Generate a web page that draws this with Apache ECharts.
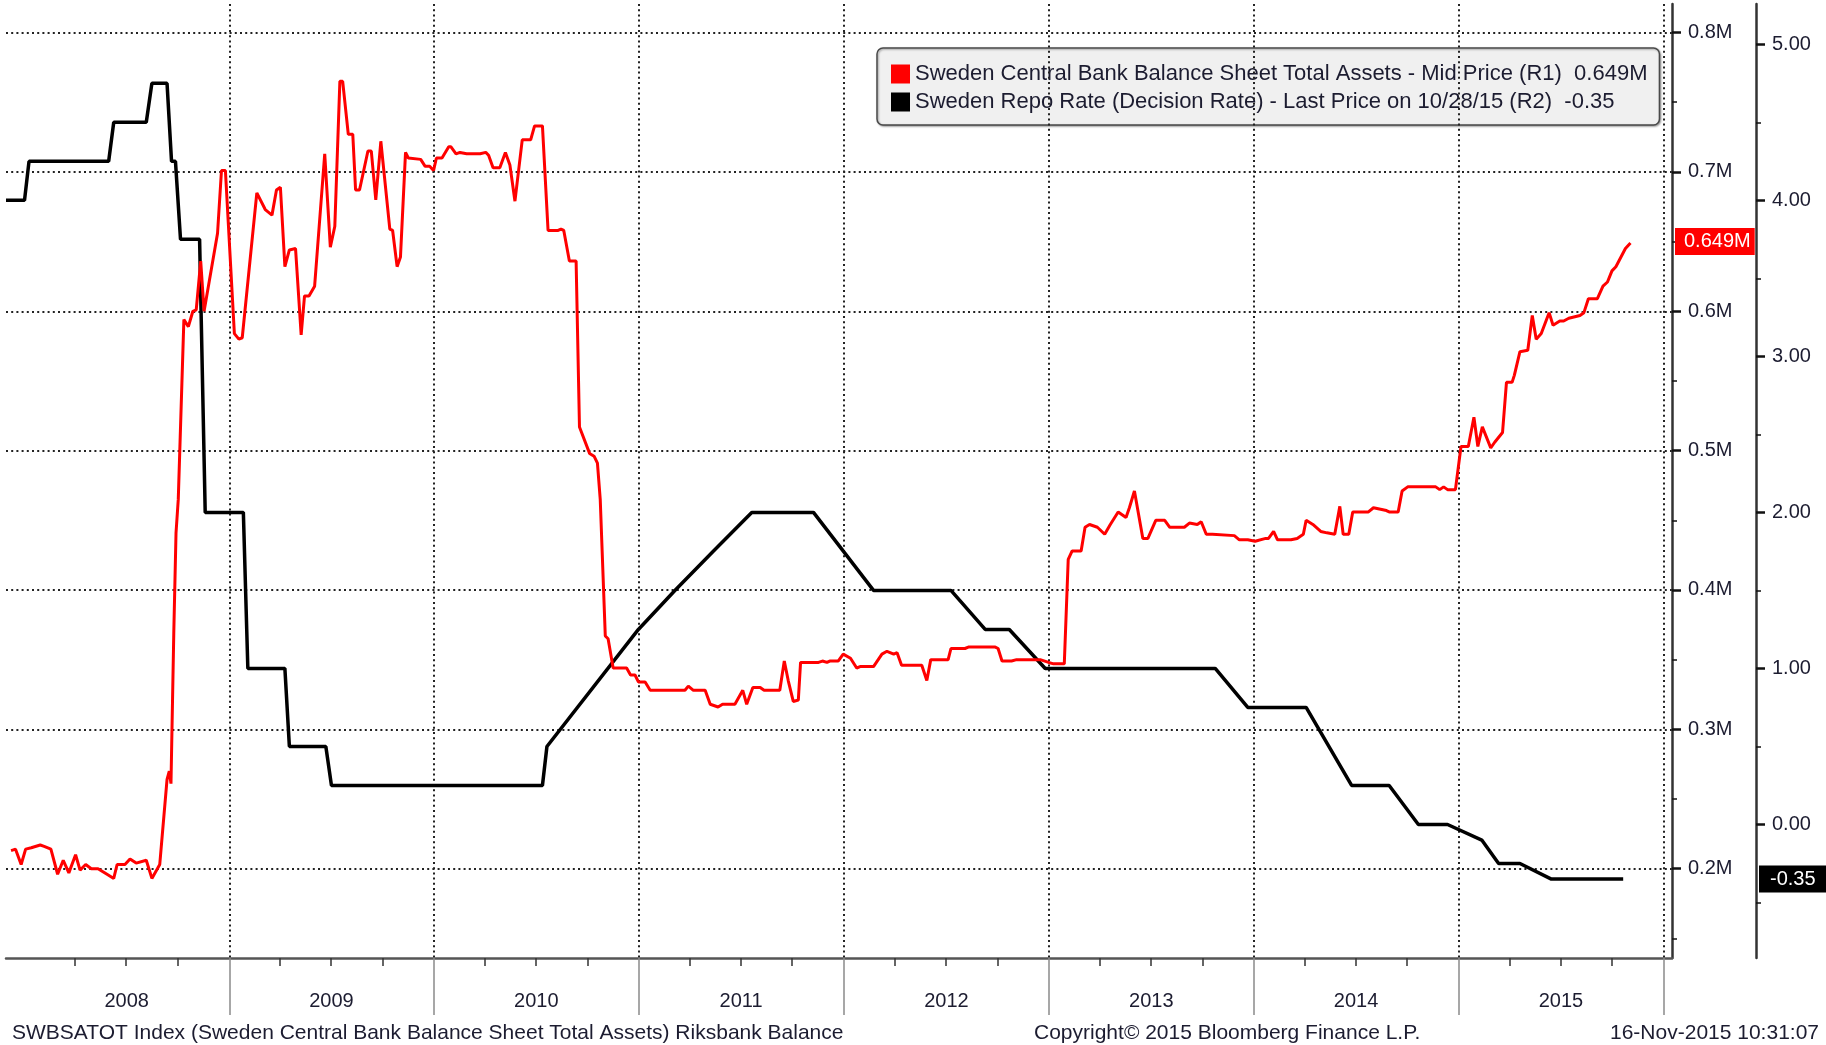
<!DOCTYPE html>
<html>
<head>
<meta charset="utf-8">
<title>Riksbank balance sheet vs repo rate</title>
<script src="https://cdn.jsdelivr.net/npm/echarts@6/dist/echarts.min.js"></script>
<style>
  html, body { margin: 0; padding: 0; background: #fff; }
  #main { width: 1826px; height: 1045px; }
</style>
</head>
<body>
<div id="main"></div>
<script>
// balance sheet total assets (millions SEK, shown as M) - weekly-ish readings
var redDates = [
  '2007-12-09','2007-12-17','2007-12-27','2008-01-04','2008-01-14','2008-01-30','2008-02-06','2008-02-18','2008-03-01','2008-03-11',
  '2008-03-21','2008-04-02','2008-04-10','2008-04-20','2008-04-30','2008-05-12','2008-05-28','2008-06-09','2008-06-15','2008-06-29',
  '2008-07-08','2008-07-19','2008-08-06','2008-08-16','2008-08-30','2008-09-12','2008-09-16','2008-09-19','2008-09-24','2008-09-28',
  '2008-10-02','2008-10-12','2008-10-20','2008-10-28','2008-11-03','2008-11-11','2008-11-17','2008-12-11','2008-12-18','2008-12-25',
  '2009-01-10','2009-01-18','2009-01-24','2009-02-19','2009-02-22','2009-03-06','2009-03-18','2009-03-26','2009-04-02','2009-04-10',
  '2009-04-18','2009-04-29','2009-05-09','2009-05-15','2009-05-23','2009-06-02','2009-06-20','2009-06-30','2009-07-08','2009-07-17',
  '2009-07-22','2009-08-01','2009-08-09','2009-08-14','2009-08-21','2009-09-05','2009-09-11','2009-09-19','2009-09-28','2009-10-14',
  '2009-10-19','2009-10-27','2009-11-02','2009-11-11','2009-11-16','2009-12-08','2009-12-16','2009-12-24','2009-12-31',
  '2010-01-05','2010-01-15','2010-01-27','2010-01-31','2010-02-09','2010-02-16','2010-02-28','2010-03-24','2010-04-03','2010-04-08',
  '2010-04-16','2010-04-28','2010-05-08','2010-05-16','2010-05-25','2010-06-07','2010-06-22','2010-06-29','2010-07-13','2010-07-23',
  '2010-08-10','2010-08-15','2010-08-20','2010-08-30','2010-09-11','2010-09-17','2010-10-05','2010-10-13','2010-10-19','2010-10-24',
  '2010-11-02','2010-11-07','2010-11-16','2010-12-10','2010-12-17','2010-12-25','2010-12-31',
  '2011-01-12','2011-01-21','2011-01-30','2011-02-06','2011-02-13','2011-03-24','2011-03-30','2011-04-08','2011-04-29','2011-05-08',
  '2011-05-22','2011-05-30','2011-06-21','2011-07-05','2011-07-12','2011-07-23','2011-08-05','2011-08-12','2011-09-09','2011-09-17',
  '2011-09-24','2011-10-03','2011-10-12','2011-10-16','2011-11-17','2011-11-24','2011-12-02','2011-12-07','2011-12-22','2011-12-31',
  '2012-01-13','2012-01-24','2012-01-30','2012-02-23','2012-03-09','2012-03-18','2012-03-30','2012-04-05','2012-04-13','2012-05-19',
  '2012-05-28','2012-06-04','2012-07-05','2012-07-10','2012-08-04','2012-08-10','2012-09-27','2012-10-02','2012-10-09','2012-10-26',
  '2012-11-04','2012-12-16','2012-12-31',
  '2013-01-09','2013-01-28','2013-02-04','2013-02-11','2013-02-27','2013-03-06','2013-03-14','2013-03-28','2013-04-10','2013-04-20',
  '2013-05-04','2013-05-18','2013-05-24','2013-06-02','2013-06-17','2013-06-26','2013-07-10','2013-07-26','2013-08-04','2013-08-30',
  '2013-09-08','2013-09-22','2013-09-29','2013-10-08','2013-10-19','2013-11-27','2013-12-06','2013-12-21',
  '2014-01-03','2014-01-22','2014-01-27','2014-02-05','2014-02-12','2014-03-08','2014-03-19','2014-03-30','2014-04-04','2014-04-16',
  '2014-04-30','2014-05-11','2014-05-25','2014-06-03','2014-06-09','2014-06-19','2014-06-26','2014-07-24','2014-08-02','2014-08-25',
  '2014-08-30','2014-09-15','2014-09-22','2014-10-02','2014-11-21','2014-11-28','2014-12-05','2014-12-12','2014-12-26',
  '2015-01-05','2015-01-18','2015-01-28','2015-02-04','2015-02-12','2015-02-27','2015-03-06','2015-03-20','2015-03-27','2015-04-06',
  '2015-04-10','2015-04-20','2015-05-04','2015-05-12','2015-05-19','2015-05-28','2015-06-11','2015-06-18','2015-06-30','2015-07-07',
  '2015-07-16','2015-08-05','2015-08-12','2015-08-20','2015-09-05','2015-09-15','2015-09-23','2015-10-01','2015-10-08','2015-10-25',
  '2015-11-03'
];
var redValues = [
  0.213,0.214,0.203,0.214,0.215,0.217,0.216,0.214,0.196,0.206,
  0.197,0.210,0.199,0.203,0.200,0.200,0.196,0.193,0.203,0.203,
  0.207,0.204,0.206,0.193,0.203,0.264,0.270,0.261,0.369,0.441,
  0.465,0.594,0.589,0.600,0.601,0.636,0.600,0.656,0.701,0.701,
  0.584,0.580,0.581,0.685,0.686,0.673,0.669,0.687,0.689,0.632,
  0.644,0.645,0.583,0.611,0.611,0.618,0.713,0.646,0.661,0.765,
  0.765,0.727,0.727,0.687,0.687,0.715,0.715,0.680,0.722,0.659,
  0.658,0.632,0.639,0.714,0.710,0.709,0.704,0.704,0.701,
  0.710,0.710,0.718,0.718,0.713,0.714,0.713,0.713,0.714,0.712,
  0.703,0.703,0.714,0.705,0.679,0.723,0.723,0.733,0.733,0.658,
  0.658,0.659,0.658,0.636,0.636,0.517,0.498,0.496,0.491,0.465,
  0.367,0.365,0.344,0.344,0.339,0.339,0.334,
  0.334,0.328,0.328,0.328,0.328,0.328,0.331,0.328,0.328,0.318,
  0.316,0.318,0.318,0.328,0.318,0.330,0.330,0.328,0.328,0.349,
  0.335,0.320,0.321,0.348,0.348,0.349,0.348,0.349,0.349,0.354,
  0.351,0.344,0.345,0.345,0.354,0.356,0.354,0.355,0.346,0.346,
  0.335,0.350,0.350,0.358,0.358,0.359,0.359,0.358,0.349,0.349,
  0.350,0.350,0.348,
  0.347,0.347,0.422,0.428,0.428,0.445,0.447,0.445,0.440,0.447,
  0.456,0.452,0.459,0.471,0.437,0.437,0.450,0.450,0.445,0.445,
  0.448,0.447,0.449,0.440,0.440,0.439,0.436,0.436,
  0.435,0.437,0.437,0.442,0.436,0.436,0.437,0.440,0.450,0.447,
  0.442,0.441,0.440,0.460,0.440,0.440,0.456,0.456,0.459,0.457,
  0.456,0.456,0.471,0.474,0.474,0.472,0.474,0.472,0.472,
  0.503,0.503,0.524,0.503,0.517,0.502,0.506,0.513,0.549,0.549,
  0.554,0.571,0.572,0.597,0.580,0.584,0.599,0.590,0.593,0.593,
  0.595,0.597,0.599,0.609,0.609,0.618,0.621,0.629,0.632,0.645,
  0.649
];

// repo rate (%), points where the plotted line turns
var repoDates = [
  '2007-11-30','2008-01-02','2008-01-10','2008-05-31','2008-06-09','2008-08-06','2008-08-16','2008-09-12','2008-09-20','2008-09-27',
  '2008-10-06','2008-11-09','2008-11-19','2009-01-26','2009-02-03','2009-04-10','2009-04-18','2009-06-22','2009-07-02','2010-07-13',
  '2010-07-21','2010-12-31','2011-03-06','2011-05-13','2011-07-21','2011-11-08','2012-02-23','2012-07-10','2012-09-09','2012-10-22',
  '2012-12-25','2013-10-24','2013-12-21','2014-04-04','2014-06-24','2014-08-30','2014-10-21','2014-12-12','2015-02-11','2015-03-13',
  '2015-04-20','2015-06-15','2015-10-21'
];
var repoValues = [
  4.00,4.00,4.25,4.25,4.50,4.50,4.75,4.75,4.25,4.25,
  3.75,3.75,2.00,2.00,1.00,1.00,0.50,0.50,0.25,0.25,
  0.50,1.25,1.50,1.75,2.00,2.00,1.50,1.50,1.25,1.25,
  1.00,1.00,0.75,0.75,0.25,0.25,0.00,0.00,-0.10,-0.25,
  -0.25,-0.35,-0.35
];

var labelYears = [2008, 2009, 2010, 2011, 2012, 2013, 2014, 2015];
var r1Ticks = [0.2, 0.3, 0.4, 0.5, 0.6, 0.7, 0.8];
var r1Minor = [0.15, 0.25, 0.35, 0.45, 0.55, 0.65, 0.75];
var r2Ticks = [0, 1, 2, 3, 4, 5];
var r2Minor = [-0.5, 0.5, 1.5, 2.5, 3.5, 4.5];

var redName = 'Sweden Central Bank Balance Sheet Total Assets - Mid Price (R1)';
var repoName = 'Sweden Repo Rate (Decision Rate) - Last Price on 10/28/15 (R2)';

var FONT = "'Liberation Sans', Arial, sans-serif";
var TXT = '#1c1c30';
var DOTS = { color: '#222', width: 2, type: [2, 3.2] };

// dates -> ms timestamps (x axis is a plain value axis holding timestamps)
function t(s) { return new Date(s + 'T00:00:00').getTime(); }

var lastRed = redValues[redValues.length - 1];
var lastRepo = repoValues[repoValues.length - 1];
var redText = lastRed.toFixed(3) + 'M';
var repoText = lastRepo.toFixed(2);

var yearStarts = [], quarterTicks = [], midYears = [];
labelYears.forEach(function (y) {
  yearStarts.push(t((y + 1) + '-01-01'));
  ['-04-01', '-07-01', '-10-01'].forEach(function (q) { quarterTicks.push(t(y + q)); });
  midYears.push(t(y + '-07-02'));
});

var xMin = t('2007-11-30'), xMax = t('2016-01-16');

var chart = echarts.init(document.getElementById('main'));

var footStyle = { fontSize: 21, fontWeight: 'normal', color: TXT, fontFamily: FONT };

var option = {
  backgroundColor: '#ffffff',
  animation: false,
  textStyle: { fontFamily: FONT },
  grid: { left: 6, right: 154, top: 4, bottom: 87, containLabel: false },
  title: [
    { text: 'SWBSATOT Index (Sweden Central Bank Balance Sheet Total Assets) Riksbank Balance', left: 7, top: 1018, textStyle: footStyle },
    { text: 'Copyright\u00a9 2015 Bloomberg Finance L.P.', left: 1029, top: 1018, textStyle: footStyle },
    { text: '16-Nov-2015 10:31:07', right: 2, top: 1018, textStyle: footStyle }
  ],
  legend: {
    data: [redName, repoName],
    orient: 'vertical',
    left: 877,
    top: 48,
    z: -1,
    selectedMode: false,
    icon: 'rect',
    itemWidth: 19,
    itemHeight: 19,
    itemGap: 6,
    padding: [15, 12, 12, 14],
    backgroundColor: '#f0f0f0',
    borderColor: '#4a4a4a',
    borderWidth: 1.5,
    borderRadius: 6,
    shadowColor: 'rgba(0,0,0,0.35)',
    shadowBlur: 2,
    shadowOffsetX: 1,
    shadowOffsetY: 1,
    textStyle: { fontSize: 22, color: TXT, fontFamily: FONT },
    formatter: function (name) {
      return name === redName ? name + '  ' + redText : name + '  ' + repoText;
    }
  },
  xAxis: [
    {
      type: 'value', min: xMin, max: xMax, position: 'bottom',
      axisLine: { show: true, onZero: false, lineStyle: { color: '#555', width: 2.5 } },
      axisTick: { show: true, customValues: yearStarts, length: 57, lineStyle: { color: '#8a8a8a', width: 1.5 } },
      axisLabel: {
        show: true, customValues: midYears, margin: 33,
        fontSize: 20, color: TXT, fontFamily: FONT,
        formatter: function (v) { return String(new Date(v).getFullYear()); }
      },
      splitLine: { show: true, lineStyle: DOTS }
    },
    {
      type: 'value', min: xMin, max: xMax, position: 'bottom',
      axisLine: { show: false, onZero: false },
      axisTick: { show: true, customValues: quarterTicks, length: 8, lineStyle: { color: '#333', width: 1.5 } },
      axisLabel: { show: false },
      splitLine: { show: false }
    }
  ],
  yAxis: [
    {
      // R1 - balance sheet
      type: 'value', position: 'right', min: 0.1359, max: 0.8205,
      axisLine: { show: true, onZero: false, lineStyle: { color: '#333', width: 2.5 } },
      axisTick: { show: true, customValues: r1Ticks, length: 9, lineStyle: { color: '#111', width: 2.5 } },
      axisLabel: {
        customValues: r1Ticks, margin: 16, fontSize: 20, color: TXT, fontFamily: FONT,
        formatter: function (v) { return v.toFixed(1) + 'M'; }
      },
      splitLine: { show: true, lineStyle: DOTS }
    },
    {
      type: 'value', position: 'right', min: 0.1359, max: 0.8205,
      axisLine: { show: false, onZero: false },
      axisTick: { show: true, customValues: r1Minor, length: 5, lineStyle: { color: '#111', width: 1.5 } },
      axisLabel: { show: false },
      splitLine: { show: false }
    },
    {
      // R2 - repo rate
      type: 'value', position: 'right', offset: 84, min: -0.8556, max: 5.2583,
      axisLine: { show: true, onZero: false, lineStyle: { color: '#333', width: 2.5 } },
      axisTick: { show: true, customValues: r2Ticks, length: 9, lineStyle: { color: '#111', width: 2.5 } },
      axisLabel: {
        customValues: r2Ticks, margin: 16, fontSize: 20, color: TXT, fontFamily: FONT,
        formatter: function (v) { return v.toFixed(2); }
      },
      splitLine: { show: false }
    },
    {
      type: 'value', position: 'right', offset: 84, min: -0.8556, max: 5.2583,
      axisLine: { show: false, onZero: false },
      axisTick: { show: true, customValues: r2Minor, length: 5, lineStyle: { color: '#111', width: 1.5 } },
      axisLabel: { show: false },
      splitLine: { show: false }
    }
  ],
  series: [
    {
      name: repoName,
      type: 'line',
      xAxisIndex: 0,
      yAxisIndex: 2,
      showSymbol: false,
      clip: false,
      itemStyle: { color: '#000000' },
      lineStyle: { color: '#000000', width: 3.5 },
      data: repoDates.map(function (d, i) { return [t(d), repoValues[i]]; }),
      markLine: {
        silent: true,
        symbol: ['none', 'none'],
        lineStyle: { width: 0, color: 'rgba(0,0,0,0)' },
        label: {
          show: true, position: 'end', distance: 87, formatter: repoText,
          color: '#fff', backgroundColor: '#000', fontSize: 20, fontFamily: FONT,
          padding: [4, 14, 3, 11]
        },
        data: [{ yAxis: lastRepo }]
      }
    },
    {
      name: redName,
      type: 'line',
      xAxisIndex: 0,
      yAxisIndex: 0,
      showSymbol: false,
      clip: false,
      itemStyle: { color: '#ff0000' },
      lineStyle: { color: '#ff0000', width: 3 },
      data: redDates.map(function (d, i) { return [t(d), redValues[i]]; }),
      markLine: {
        silent: true,
        symbol: ['none', 'none'],
        lineStyle: { width: 0, color: 'rgba(0,0,0,0)' },
        label: {
          show: true, position: 'end', distance: 3, formatter: redText,
          color: '#fff', backgroundColor: '#ff0000', fontSize: 20, fontFamily: FONT,
          padding: [4, 4, 3, 9]
        },
        data: [{ yAxis: lastRed }]
      }
    }
  ]
};

chart.setOption(option);
</script>
</body>
</html>
